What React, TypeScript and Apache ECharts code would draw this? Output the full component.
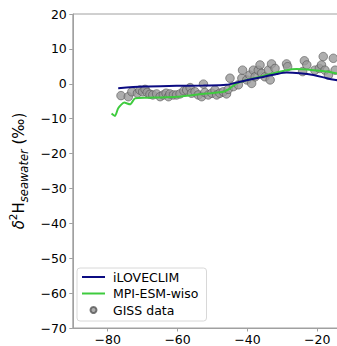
import React, { useEffect, useRef } from "react";
import * as echarts from "echarts";

const xTicks = [-80, -60, -40, -20];

const iloveclimX = [-77.0, -69.8, -60.3, -52.6, -46.0, -42.1, -36.4, -31.6, -28.8, -25.0, -21.1, -17.3, -14.7, -12.0];
const iloveclimY = [-1.3, -0.8, -0.6, -0.5, -0.3, 0.6, 1.8, 2.8, 3.2, 3.0, 2.5, 1.6, 1.1, 0.7];

const mpiX = [-78.9, -77.9, -77.0, -75.3, -73.6, -72.2, -68.9, -65.0, -60.3, -55.5, -50.7, -46.9, -45.0, -43.1, -40.2, -36.4, -32.6, -28.8, -25.9, -23.0, -20.2, -17.3, -14.7, -12.0];
const mpiY = [-8.5, -9.2, -7.0, -5.4, -5.9, -4.2, -4.0, -3.9, -3.7, -3.2, -2.7, -2.3, -1.3, 0.1, 1.1, 2.0, 3.0, 3.9, 4.2, 4.1, 3.8, 3.5, 3.0, 2.6];

const gissX = [-76.2, -74.1, -73.1, -71.5, -70.8, -70.0, -69.3, -68.7, -67.9, -67.1, -66.0, -65.0, -64.1, -63.3, -62.6, -62.2, -61.2, -60.3, -59.3, -58.2, -57.4, -56.4, -56.0, -55.0, -54.1, -53.1, -52.6, -52.2, -51.2, -50.2, -49.3, -48.8, -47.9, -46.9, -46.0, -45.5, -45.0, -44.0, -42.6, -41.6, -41.4, -40.2, -39.3, -38.8, -38.3, -37.8, -36.9, -36.4, -35.9, -35.0, -34.0, -33.5, -33.1, -32.1, -28.8, -28.5, -24.2, -23.7, -23.0, -20.7, -19.4, -18.8, -18.3, -17.8, -16.8, -15.4, -14.9];
const gissY = [-3.4, -3.7, -2.3, -2.7, -1.8, -2.3, -1.6, -2.5, -3.0, -3.2, -2.9, -3.7, -3.2, -2.7, -3.7, -2.9, -3.2, -3.2, -2.9, -2.0, -1.8, -1.1, -2.7, -2.3, -3.2, -3.7, -0.1, -2.5, -3.2, -2.7, -1.8, -3.2, -2.7, -2.3, -2.9, -1.6, 1.6, -0.8, -0.3, 1.6, 3.9, 1.1, 2.5, 0.1, 3.9, 2.0, 3.9, 5.4, 3.0, 2.0, 3.9, 1.1, 5.7, 4.4, 5.7, 4.9, 3.5, 6.6, 5.4, 3.9, 4.4, 5.4, 7.8, 3.9, 2.5, 7.3, 3.9];

const zip = (xs: number[], ys: number[]) => xs.map((x, i) => [x, ys[i]]);
const FONT = "DejaVu Sans";
const minus = (v: number) => String(v).replace("-", "\u2212");
const LINE_ICON = "path://M0,0H23V2H0Z";

export default function App() {
  const ref = useRef<HTMLDivElement>(null);
  useEffect(() => {
    if (!ref.current) return;
    const chart = echarts.init(ref.current, undefined, { renderer: "svg" });
    chart.setOption({
      animation: false,
      backgroundColor: "#fff",
      grid: {
        left: 72.8,
        top: 14,
        width: 296.9,
        height: 314,
        show: true,
        borderColor: "#a0a0a0",
        borderWidth: 1,
        backgroundColor: "transparent",
        containLabel: false,
        outerBoundsMode: "none",
      },
      xAxis: {
        type: "value",
        min: -90,
        max: -5,
        axisLine: { show: true, onZero: false, lineStyle: { color: "#a0a0a0", width: 1 } },
        axisTick: { show: true, length: 3.5, customValues: xTicks, lineStyle: { color: "#a0a0a0" } },
        axisLabel: {
          customValues: xTicks,
          margin: 5,
          color: "#000",
          fontFamily: FONT,
          fontSize: 12.5,
          formatter: (v: number) => minus(v),
        },
        splitLine: { show: false },
      },
      yAxis: {
        type: "value",
        min: -70,
        max: 20,
        interval: 10,
        axisLine: { show: true, onZero: false, lineStyle: { color: "#a0a0a0", width: 1 } },
        axisTick: { show: true, length: 3.5, lineStyle: { color: "#a0a0a0" } },
        axisLabel: {
          margin: 6,
          color: "#000",
          fontFamily: FONT,
          fontSize: 12.5,
          formatter: (v: number) => minus(v),
        },
        splitLine: { show: false },
        name: "{d|δ}{sup|2}{a|H}{sub|seawater}{a| (‰)}",
        nameLocation: "middle",
        nameRotate: 90,
        nameGap: 37,
        nameTextStyle: {
          color: "#000",
          fontFamily: FONT,
          fontSize: 15,
          rich: {
            d: { fontFamily: FONT, fontSize: 15, fontStyle: "italic", color: "#000", lineHeight: 22, verticalAlign: "middle" },
            a: { fontFamily: FONT, fontSize: 15, color: "#000", lineHeight: 22, verticalAlign: "middle" },
            sup: { fontFamily: FONT, fontSize: 10.5, color: "#000", lineHeight: 22, verticalAlign: "top", padding: [0, 0, 8, 0] },
            sub: { fontFamily: FONT, fontSize: 11.5, fontStyle: "italic", color: "#000", lineHeight: 22, verticalAlign: "bottom", padding: [6, 0, 0, 0] },
          },
        },
      },
      legend: {
        orient: "vertical",
        left: 77,
        top: 268,
        itemWidth: 23,
        itemHeight: 6,
        itemGap: 2.5,
        padding: [2, 8, 4, 5],
        backgroundColor: "rgba(255,255,255,0.85)",
        borderColor: "#d8d8d8",
        borderWidth: 1,
        borderRadius: 3,
        textStyle: { fontFamily: FONT, fontSize: 12.5, color: "#000", lineHeight: 14, padding: [0, 0, 0, 3] },
        data: [
          { name: "iLOVECLIM", icon: LINE_ICON, itemStyle: { color: "#0b0b82" } },
          { name: "MPI-ESM-wiso", icon: LINE_ICON, itemStyle: { color: "#3ecb3e" } },
          { name: "GISS data", icon: "circle" },
        ],
      },
      series: [
        {
          name: "GISS data",
          type: "scatter",
          data: zip(gissX, gissY),
          symbol: "circle",
          symbolSize: 8.5,
          itemStyle: { color: "#9a9a9a", borderColor: "#555", borderWidth: 0.8 },
          z: 1,
        },
        {
          name: "iLOVECLIM",
          type: "line",
          data: zip(iloveclimX, iloveclimY),
          showSymbol: false,
          symbol: "none",
          smooth: 0.3,
          lineStyle: { color: "#0b0b82", width: 2 },
          itemStyle: { color: "#0b0b82" },
          z: 3,
        },
        {
          name: "MPI-ESM-wiso",
          type: "line",
          data: zip(mpiX, mpiY),
          showSymbol: false,
          symbol: "none",
          smooth: 0.2,
          lineStyle: { color: "#3ecb3e", width: 2 },
          itemStyle: { color: "#3ecb3e" },
          z: 2,
        },
      ],
    });
    return () => chart.dispose();
  }, []);
  return (
    <div
      ref={ref}
      style={{ position: "fixed", left: 0, top: 0, width: 337, height: 346, background: "#fff" }}
    />
  );
}
